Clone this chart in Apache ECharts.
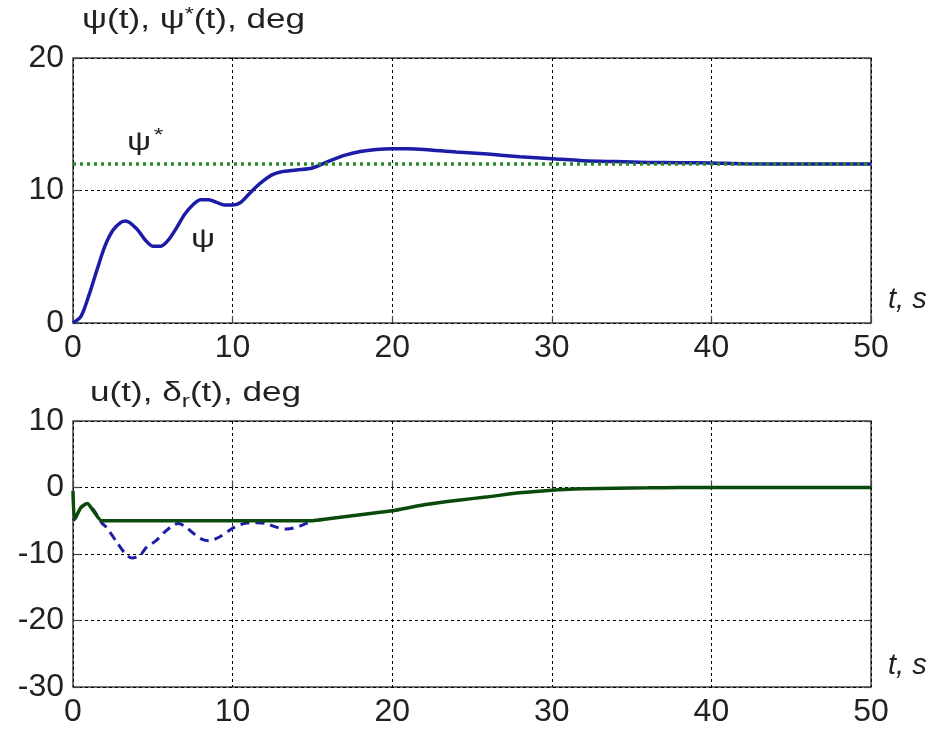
<!DOCTYPE html>
<html>
<head>
<meta charset="utf-8">
<script src="https://cdn.jsdelivr.net/npm/echarts@6/dist/echarts.min.js"></script>
<style>
  html, body { margin: 0; padding: 0; background: #fff; }
  #chart { width: 935px; height: 732px; }
</style>
</head>
<body>
<div id="chart"></div>
<script>
// heading psi(t) and reference psi*
const tPsi = [0, 0.5, 1, 1.5, 2, 2.5, 3, 3.3, 4, 4.5, 5, 5.5, 6, 6.5, 7, 7.5, 8, 8.5,
  9, 9.5, 10, 10.5, 11, 11.5, 12, 12.5, 13, 14, 15, 16, 17, 18, 19, 20, 21, 22,
  24, 26, 28, 30, 32, 34, 36, 38, 40, 42, 46, 50]
const psi = [0, 0.5, 2.1, 4.0, 5.8, 7.0, 7.6, 7.7, 7.1, 6.3, 5.8, 5.8, 6.3, 7.2, 8.2, 8.9, 9.3, 9.3,
  9.1, 8.9, 8.9, 9.1, 9.7, 10.3, 10.8, 11.2, 11.4, 11.55, 11.7, 12.2, 12.65, 12.95, 13.1, 13.15, 13.15, 13.1,
  12.9, 12.75, 12.55, 12.4, 12.25, 12.18, 12.12, 12.1, 12.08, 12.02, 12.0, 12.0]
const tRef = [0, 50]
const psiRef = [12, 12]

// control u(t) (solid) and rudder delta_r(t) (dashed)
const tU = [0, 0.1, 0.5, 0.9, 1.3, 1.8, 15, 16, 17, 18, 19, 20, 22, 24, 26, 28, 30, 32, 34, 36, 38, 40, 45, 50]
const u = [-0.5, -4.8, -3.0, -2.4, -3.6, -5.0, -5.0, -4.7, -4.4, -4.1, -3.8, -3.5, -2.6, -1.95, -1.4, -0.8, -0.4, -0.2, -0.1, -0.05, 0, 0, 0, 0]
const tD = [0, 0.3, 0.6, 0.9, 1.3, 1.8, 2.1, 2.8, 3.3, 3.7, 4.2, 4.6, 5.2, 5.7, 6.2, 6.6, 7.1, 7.6, 8.1, 8.5,
  9.2, 10.1, 10.9, 11.6, 12.2, 12.8, 13.4, 14.2, 15]
const delta = [-5, -3.8, -2.8, -2.4, -3.4, -5.3, -6.0, -8.4, -10.0, -10.6, -10.2, -9.0, -8.0, -6.8, -5.8, -5.4, -6.0, -7.0, -7.8, -8.0,
  -7.4, -6.0, -5.35, -5.3, -5.5, -6.0, -6.25, -5.8, -5.0]

const xTicks = [0, 10, 20, 30, 40, 50]

const zip = (xs, ys) => xs.map((x, i) => [x, ys[i]])

const FONT = 'Liberation Sans, Arial, sans-serif'
const INK = '#222'
const gridLine = { show: true, lineStyle: { type: [3, 3], color: '#000', width: 1 } }
const tick = { show: true, inside: true, length: 7, lineStyle: { color: '#444', width: 1.2 } }
const label = { color: INK, fontSize: 32, fontFamily: FONT }

const xAxisFor = (gridIndex) => ({
  type: 'value',
  gridIndex,
  min: xTicks[0],
  max: xTicks[xTicks.length - 1],
  interval: 10,
  axisLine: { show: false },
  axisTick: tick,
  splitLine: gridLine,
  axisLabel: { ...label, margin: 9 }
})

const yAxisFor = (gridIndex, min, max) => ({
  type: 'value',
  gridIndex,
  min,
  max,
  interval: 10,
  axisLine: { show: false },
  axisTick: tick,
  splitLine: gridLine,
  axisLabel: { ...label, margin: 9 }
})

const yRightFor = (gridIndex, min, max) => ({
  type: 'value',
  gridIndex,
  position: 'right',
  min,
  max,
  interval: 10,
  axisLine: { show: false },
  axisTick: tick,
  splitLine: { show: false },
  axisLabel: { show: false }
})

// the figure's lettering is a little wider than Arial
const wide = (left, top, style) => ({ type: 'text', left, top, scaleX: 1.3, style })

const chart = echarts.init(document.getElementById('chart'))
chart.setOption({
  animation: false,
  backgroundColor: '#fff',
  grid: [
    { left: 73, top: 58, width: 798, height: 265, show: true, borderColor: '#444', borderWidth: 1.5, backgroundColor: '#fff' },
    { left: 73, top: 421, width: 798, height: 266, show: true, borderColor: '#444', borderWidth: 1.5, backgroundColor: '#fff' }
  ],
  xAxis: [xAxisFor(0), xAxisFor(1)],
  yAxis: [yAxisFor(0, 0, 20), yAxisFor(1, -30, 10), yRightFor(0, 0, 20), yRightFor(1, -30, 10)],
  series: [
    {
      name: 'psi', type: 'line', xAxisIndex: 0, yAxisIndex: 0,
      data: zip(tPsi, psi), smooth: 0.3, symbol: 'none',
      lineStyle: { color: '#1c1ca6', width: 3.5 }
    },
    {
      name: 'psi*', type: 'line', xAxisIndex: 0, yAxisIndex: 0,
      data: zip(tRef, psiRef), symbol: 'none',
      lineStyle: { color: '#2a8a2a', width: 3.5, type: [3, 4] }
    },
    {
      name: 'delta_r', type: 'line', xAxisIndex: 1, yAxisIndex: 1,
      data: zip(tD, delta), smooth: 0.3, symbol: 'none',
      lineStyle: { color: '#1c1ca6', width: 3, type: [9, 6] }
    },
    {
      name: 'u', type: 'line', xAxisIndex: 1, yAxisIndex: 1,
      data: zip(tU, u), smooth: 0.2, symbol: 'none',
      lineStyle: { color: '#0b4a0b', width: 3.5 }
    }
  ],
  graphic: [
    wide(82, 6, {
      text: '{a|ψ(t), ψ}{s|*}{a|(t), deg}',
      rich: {
        a: { fontSize: 27, fontFamily: FONT, fill: INK, lineHeight: 34 },
        s: { fontSize: 18, fontFamily: FONT, fill: INK, lineHeight: 34, padding: [0, 0, 12, 0] }
      }
    }),
    wide(127, 126, {
      text: '{a|ψ}{s|*}',
      rich: {
        a: { fontSize: 26, fontFamily: FONT, fill: INK, lineHeight: 32 },
        s: { fontSize: 19, fontFamily: FONT, fill: INK, lineHeight: 32, padding: [0, 0, 14, 2] }
      }
    }),
    wide(191, 227, { text: 'ψ', fontSize: 26, fontFamily: FONT, fill: INK }),
    { type: 'text', left: 888, top: 285, style: { text: 't, s', fontSize: 29, fontStyle: 'italic', fontFamily: FONT, fill: INK } },
    wide(90, 376, {
      text: '{a|u(t), δ}{s|r}{a|(t), deg}',
      rich: {
        a: { fontSize: 27, fontFamily: FONT, fill: INK, lineHeight: 34 },
        s: { fontSize: 19, fontFamily: FONT, fill: INK, lineHeight: 34, padding: [16, 0, 0, 0] }
      }
    }),
    { type: 'text', left: 888, top: 651, style: { text: 't, s', fontSize: 29, fontStyle: 'italic', fontFamily: FONT, fill: INK } }
  ]
})
</script>
</body>
</html>
